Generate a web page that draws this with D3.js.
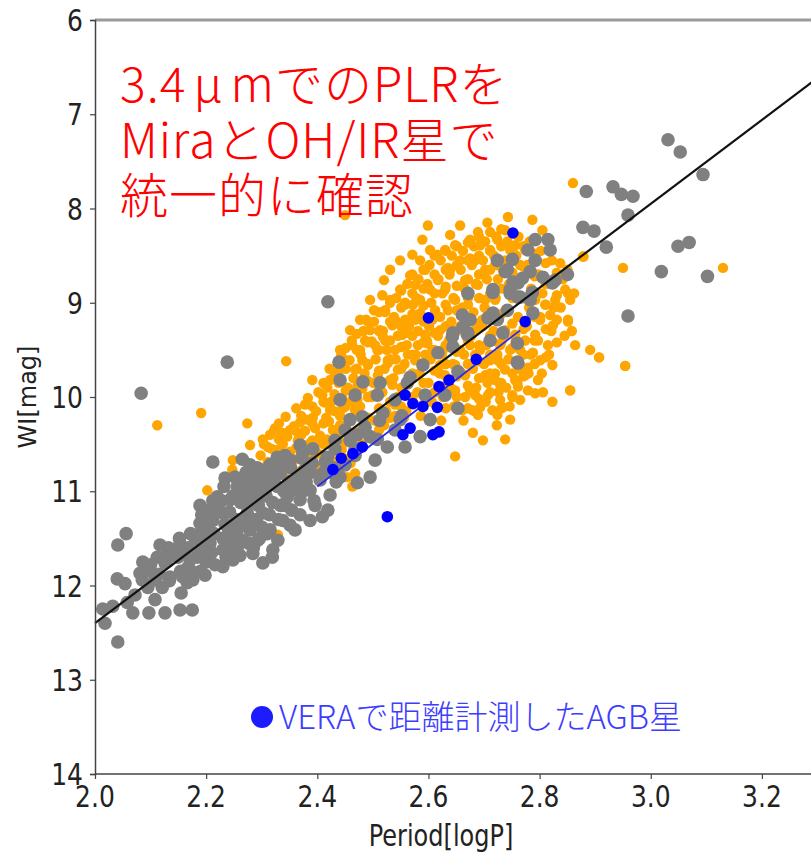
<!DOCTYPE html>
<html>
<head>
<meta charset="utf-8">
<script src="https://cdn.jsdelivr.net/npm/d3@7/dist/d3.min.js"></script>
<style>
  html, body { margin: 0; padding: 0; background: #fff; }
  svg { display: block; }
</style>
</head>
<body>
<svg id="chart" width="811" height="853"></svg>
<script>
// Axis ticks
const xTicks = [2.0, 2.2, 2.4, 2.6, 2.8, 3.0, 3.2];
const yTicks = [6, 7, 8, 9, 10, 11, 12, 13, 14];

// Mira variables, logP and WI magnitude (orange)
const miraLogP = [2.248,2.247,2.274,2.279,2.304,2.315,2.324,2.337,2.346,2.344,2.337,2.329,2.329,2.369,2.382,2.392,2.365,2.387,2.396,2.391,2.362,2.401,2.378,2.414,2.416,2.428,2.441,2.455,2.446,2.450,2.432,2.423,2.437,2.450,2.409,2.454,2.463,2.468,2.434,2.419,2.472,2.477,2.486,2.495,2.468,2.481,2.504,2.491,2.499,2.473,2.509,2.463,2.488,2.513,2.502,2.468,2.522,2.531,2.540,2.549,2.558,2.522,2.540,2.553,2.527,2.545,2.563,2.535,2.520,2.567,2.549,2.531,2.558,2.540,2.556,2.535,2.576,2.585,2.594,2.603,2.612,2.576,2.594,2.607,2.581,2.621,2.585,2.603,2.571,2.617,2.594,2.576,2.621,2.607,2.589,2.599,2.616,2.572,2.630,2.639,2.648,2.657,2.666,2.630,2.648,2.635,2.671,2.639,2.657,2.626,2.657,2.675,2.648,2.630,2.666,2.675,2.648,2.661,2.635,2.675,2.675,2.684,2.693,2.702,2.711,2.720,2.689,2.702,2.720,2.693,2.711,2.702,2.720,2.684,2.707,2.725,2.684,2.689,2.706,2.724,2.697,2.729,2.715,2.689,2.680,2.698,2.738,2.743,2.756,2.765,2.774,2.747,2.738,2.756,2.747,2.765,2.774,2.738,2.756,2.774,2.729,2.751,2.765,2.729,2.779,2.787,2.734,2.747,2.792,2.805,2.801,2.810,2.819,2.792,2.815,2.828,2.801,2.837,2.824,2.823,2.797,2.860,2.878,2.850,2.855,2.846,2.851,2.864,2.891,2.907,2.855,2.950,3.130,2.954,2.191,2.112,2.823,2.738,2.648,2.724,2.734,2.792,2.806,2.788,2.779,2.679,2.693,2.761,2.518,2.562,2.508,2.527,2.598,2.616,2.202,2.423,2.459,2.441,2.477,2.495,2.517,2.879,2.907,2.954,2.855,
  2.302,2.298,2.305,2.322,2.318,2.325,2.321,2.343,2.338,2.345,2.341,2.362,2.358,2.365,2.361,2.357,2.383,2.378,2.385,2.381,2.377,2.402,2.398,2.405,2.401,2.397,2.422,2.418,2.425,2.421,2.417,2.424,2.420,2.443,2.438,2.445,2.441,2.437,2.444,2.440,2.462,2.458,2.465,2.461,2.457,2.464,2.460,2.483,2.478,2.485,2.481,2.477,2.484,2.480,2.502,2.498,2.505,2.501,2.497,2.504,2.500,2.522,2.518,2.525,2.521,2.517,2.524,2.520,2.542,2.538,2.545,2.541,2.537,2.544,2.540,2.562,2.558,2.565,2.561,2.557,2.564,2.560,2.582,2.578,2.585,2.581,2.577,2.584,2.580,2.586,2.602,2.598,2.605,2.601,2.597,2.604,2.600,2.606,2.622,2.618,2.625,2.621,2.617,2.624,2.620,2.626,2.623,2.642,2.638,2.645,2.641,2.637,2.644,2.640,2.646,2.662,2.658,2.665,2.661,2.657,2.664,2.660,2.666,2.663,2.682,2.678,2.685,2.681,2.677,2.684,2.680,2.686,2.683,2.702,2.698,2.705,2.701,2.697,2.704,2.700,2.706,2.703,2.722,2.718,2.725,2.721,2.717,2.724,2.720,2.726,2.723,2.742,2.738,2.745,2.741,2.737,2.744,2.740,2.746,2.762,2.758,2.765,2.761,2.757,2.764,2.760,2.782,2.778,2.785,2.781,2.777,2.784,2.780,2.802,2.798,2.805,2.801,2.797,2.804,2.822,2.818,2.825,2.821,2.817,2.842,2.838,2.845,2.862,2.858];
const miraMag = [10.67,10.77,10.28,10.51,10.50,10.40,10.33,10.38,10.42,9.62,10.70,11.46,10.56,10.27,10.24,10.22,10.38,10.49,10.33,9.82,10.54,10.46,10.08,10.06,10.22,10.35,10.30,9.90,10.12,8.07,9.98,10.14,9.73,9.61,9.98,10.85,10.95,10.81,10.56,10.46,10.03,9.50,9.40,9.29,9.71,9.61,9.45,9.66,9.98,9.87,9.77,9.45,9.18,9.29,9.08,10.14,9.08,8.97,9.18,8.86,9.02,9.40,9.50,9.34,9.61,9.71,9.55,9.24,8.76,8.71,8.55,8.65,9.18,10.08,10.22,9.87,8.81,8.97,8.65,8.86,9.08,9.18,9.34,9.50,9.45,9.29,8.55,8.44,8.49,8.76,9.55,9.61,9.66,9.18,8.33,8.18,8.49,9.02,8.44,8.65,8.39,8.55,8.76,8.86,8.97,9.08,9.02,8.28,8.18,9.50,9.50,9.45,9.66,9.77,9.77,9.93,9.93,10.14,8.63,8.53,8.33,8.55,8.39,8.65,8.44,8.60,8.81,8.97,8.97,9.50,9.61,9.77,9.82,9.98,9.98,9.61,9.29,8.25,8.15,8.33,9.18,9.45,10.14,10.19,10.38,10.46,8.23,8.09,8.39,8.60,8.44,8.44,9.29,9.34,9.50,9.50,9.40,9.71,9.82,9.77,9.87,9.98,10.03,10.03,9.93,8.12,8.65,10.24,8.97,8.23,9.18,9.02,9.13,9.34,9.45,8.97,9.61,8.58,9.24,9.66,9.82,7.73,8.51,8.65,8.97,8.86,9.18,9.45,9.50,9.58,9.93,8.63,8.63,9.67,10.17,10.30,10.05,10.45,10.63,10.19,10.11,9.96,9.95,9.53,9.69,10.14,10.11,9.89,9.36,9.32,9.50,9.64,9.43,9.53,10.99,9.82,9.29,9.50,9.18,8.97,8.92,8.51,9.58,9.67,9.93,
  10.45,10.62,10.76,10.36,10.55,10.70,10.86,10.21,10.50,10.66,10.80,10.12,10.31,10.46,10.66,10.90,10.01,10.36,10.56,10.71,10.86,9.95,10.15,10.41,10.60,10.76,9.70,9.90,10.05,10.26,10.45,10.64,10.80,9.56,9.85,10.01,10.20,10.40,10.56,10.80,9.40,9.61,9.80,10.05,10.25,10.46,10.70,9.30,9.55,9.75,9.91,10.10,10.35,10.50,9.20,9.41,9.60,9.85,10.00,10.25,10.45,9.10,9.30,9.50,9.70,9.95,10.15,10.30,8.95,9.15,9.35,9.60,9.80,10.00,10.20,8.80,9.00,9.25,9.45,9.65,9.85,10.15,8.75,8.95,9.11,9.30,9.55,9.75,9.95,10.20,8.60,8.80,9.00,9.25,9.40,9.60,9.85,10.05,8.55,8.75,8.90,9.15,9.35,9.55,9.75,10.00,10.25,8.50,8.70,8.95,9.20,9.40,9.65,9.90,10.10,8.45,8.65,8.85,9.05,9.25,9.55,9.75,10.00,10.25,8.40,8.60,8.80,9.10,9.35,9.55,9.70,9.90,10.15,8.35,8.55,8.75,9.05,9.25,9.45,9.65,9.85,10.05,8.30,8.50,8.75,8.95,9.30,9.55,9.75,9.95,10.30,8.35,8.55,8.80,9.10,9.35,9.60,9.90,10.10,8.30,8.50,8.75,9.15,9.40,9.70,9.85,8.35,8.60,8.85,9.05,9.25,9.55,9.75,8.45,8.70,8.90,9.15,9.40,9.75,8.55,8.80,9.05,9.30,9.55,8.75,9.05,9.35,8.90,9.30];

// Densest part of the Mira sequence: [logP, [WI magnitudes...]]
const miraCoreRows = [
  [2.311, [10.53, 10.69]],
  [2.331, [10.28, 10.45, 10.62, 10.78]],
  [2.351, [10.35, 10.58, 10.73]],
  [2.371, [10.20, 10.40, 10.56, 10.78]],
  [2.391, [10.10, 10.28, 10.46, 10.63]],
  [2.411, [9.85, 10.05, 10.28, 10.50]],
  [2.431, [9.78, 9.97, 10.15, 10.35, 10.55, 10.72]],
  [2.451, [9.48, 9.70, 9.93, 10.10, 10.30, 10.48, 10.66]],
  [2.471, [9.33, 9.50, 9.70, 9.92, 10.15, 10.36, 10.58]],
  [2.491, [9.20, 9.42, 9.65, 9.83, 10.00, 10.22, 10.42]],
  [2.511, [9.10, 9.30, 9.50, 9.72, 9.92, 10.12, 10.35]],
  [2.531, [9.00, 9.20, 9.40, 9.60, 9.82, 10.05, 10.22]],
  [2.551, [8.87, 9.05, 9.25, 9.47, 9.70, 9.90, 10.10]],
  [2.571, [8.70, 8.90, 9.12, 9.35, 9.55, 9.75, 10.00]],
  [2.591, [8.65, 8.85, 9.03, 9.20, 9.42, 9.65, 9.85, 10.08]],
  [2.611, [8.50, 8.70, 8.90, 9.12, 9.32, 9.50, 9.72, 9.95]],
  [2.631, [8.45, 8.65, 8.83, 9.02, 9.25, 9.45, 9.65, 9.88, 10.12]],
  [2.651, [8.40, 8.60, 8.82, 9.08, 9.30, 9.52, 9.78, 10.00]],
  [2.671, [8.36, 8.55, 8.75, 8.95, 9.15, 9.40, 9.65, 9.88, 10.12]],
  [2.691, [8.30, 8.50, 8.70, 8.95, 9.22, 9.45, 9.62, 9.80, 10.02]],
  [2.711, [8.25, 8.45, 8.65, 8.90, 9.15, 9.35, 9.55, 9.75, 9.95]],
  [2.731, [8.22, 8.40, 8.62, 8.85, 9.12, 9.42, 9.65, 9.85, 10.12]],
  [2.751, [8.45, 8.68, 8.95, 9.22, 9.48, 9.75, 10.00]],
  [2.771, [8.40, 8.62, 8.95, 9.28, 9.55, 9.78]],
  [2.791, [8.48, 8.72, 8.95, 9.15, 9.40, 9.65]],
  [2.811, [8.58, 8.80, 9.02, 9.28, 9.58]],
  [2.831, [8.68, 8.92, 9.18, 9.42]],
  [2.851, [8.90, 9.20]]
];

// OH/IR and other AGB stars (grey)
const ohirLogP = [2.083,2.238,2.419,2.056,2.041,2.040,2.054,2.014,2.032,2.058,2.018,2.068,2.097,2.126,2.153,2.175,2.155,2.041,2.212,2.265,2.086,2.081,2.099,2.112,2.130,2.140,2.095,2.121,2.135,2.153,2.126,2.085,2.108,2.158,2.166,2.176,2.171,2.167,2.189,2.194,2.207,2.184,2.230,2.230,2.256,2.274,2.266,2.230,2.220,2.256,2.274,2.292,2.302,2.315,2.320,2.302,2.284,2.248,2.202,2.212,2.315,2.333,2.346,2.338,2.329,2.319,2.351,2.328,2.243,2.207,2.189,2.149,2.117,2.072,2.108,2.243,2.279,2.297,2.306,2.360,2.369,2.378,2.387,2.396,2.405,2.414,2.423,2.432,2.409,2.369,2.351,2.279,2.374,2.391,2.418,2.410,2.441,2.472,2.495,2.268,2.297,2.439,2.441,2.482,2.513,2.441,2.508,2.486,2.526,2.558,2.585,2.590,2.562,2.481,2.518,2.567,2.617,2.643,2.662,2.671,2.653,2.644,2.711,2.724,2.747,2.761,2.760,2.760,2.788,2.653,2.495,2.716,2.742,2.769,2.787,2.734,2.716,2.792,2.815,2.779,2.819,2.792,2.724,2.751,2.738,2.783,2.806,2.850,2.761,2.823,2.747,2.765,2.671,2.716,2.742,2.707,2.661,2.675,2.644,2.670,2.761,2.878,2.898,2.884,2.932,2.947,2.968,2.959,2.920,3.049,3.069,3.019,3.102,2.959,3.031,3.053,3.094,2.828,2.752,2.783,2.540,2.459,2.468,2.450,2.504,2.549,2.603,2.630,2.594,2.540,2.468,2.459,2.432,2.369,2.342,2.315,2.288,2.450,2.419,2.387,2.360,2.342,2.293,2.261,2.216,2.198,2.234,2.189,
  2.100,2.115,2.132,2.128,2.134,2.152,2.148,2.154,2.172,2.168,2.174,2.192,2.188,2.194,2.190,2.212,2.208,2.214,2.210,2.232,2.228,2.234,2.230,2.236,2.252,2.248,2.254,2.250,2.256,2.272,2.268,2.274,2.270,2.276,2.292,2.288,2.294,2.290,2.296,2.312,2.308,2.314,2.310,2.332,2.328,2.334,2.330,2.352,2.348,2.354,2.372,2.368,2.374,2.392,2.388,2.394,2.432,2.428,2.434,2.472,2.468,2.512,2.508,2.552,
  2.222,2.242,2.262,2.282,2.262,2.284,2.302,2.322,2.320,2.300,2.240,2.200,2.180,2.160,2.200,2.245,2.285,2.340,2.360,2.380];
const ohirMag = [9.96,9.63,8.99,11.45,11.57,11.93,11.98,12.25,12.22,12.18,12.40,12.29,12.29,12.29,12.26,12.26,12.08,12.60,10.69,10.66,11.75,11.87,11.84,11.70,11.66,11.62,12.02,12.02,11.91,11.55,11.76,11.94,11.94,11.91,11.97,11.94,11.73,11.81,11.34,11.49,11.55,11.70,11.80,11.62,11.41,11.23,11.52,11.23,11.06,10.95,10.91,11.06,11.23,11.41,11.62,11.76,11.66,11.73,11.41,11.31,10.88,10.81,11.06,11.31,11.52,11.70,10.67,10.64,11.09,11.20,11.62,11.70,11.57,12.10,12.15,11.52,11.41,10.77,10.99,10.88,11.09,10.77,10.99,11.15,10.88,10.69,11.04,10.83,11.27,11.25,11.36,10.72,10.59,10.70,10.64,10.81,10.85,10.91,10.85,10.88,10.93,9.63,9.82,9.84,9.85,10.03,9.98,10.32,10.53,10.53,10.42,9.66,9.85,10.21,10.17,9.79,9.53,9.36,9.26,9.32,9.73,9.47,9.40,9.18,8.86,8.94,9.63,9.43,9.11,10.12,10.42,8.86,8.65,8.74,8.89,9.32,9.11,8.33,8.33,8.44,8.44,8.55,8.55,8.54,8.67,8.67,8.73,8.70,8.79,8.79,8.90,8.94,8.90,8.89,9.08,9.16,9.13,9.18,9.32,9.34,9.64,8.20,8.24,7.82,7.77,7.85,7.87,8.07,8.41,8.40,8.36,8.67,8.72,9.14,7.27,7.40,7.64,8.76,8.78,8.97,10.35,10.46,10.62,10.72,10.67,10.24,10.24,9.98,9.98,10.03,9.98,10.24,10.46,10.51,10.62,10.72,10.77,10.35,11.20,11.31,11.41,11.15,11.52,11.68,11.78,11.89,10.86,11.15,
  11.78,11.88,11.60,11.75,11.95,11.50,11.65,11.85,11.45,11.60,11.85,11.25,11.45,11.65,11.85,11.10,11.30,11.45,11.65,10.95,11.10,11.35,11.50,11.70,10.85,11.05,11.30,11.45,11.60,10.80,11.00,11.15,11.35,11.55,10.75,10.95,11.15,11.30,11.50,10.80,11.05,11.25,11.45,10.70,10.95,11.15,11.30,10.75,10.90,11.20,10.65,10.85,11.00,10.55,10.80,11.10,10.55,10.75,10.90,10.40,10.55,10.25,10.45,10.20,
  11.20,11.22,11.12,11.05,10.95,10.86,10.90,10.88,11.12,11.38,11.40,11.40,11.50,11.62,11.75,11.62,11.60,11.00,10.98,10.90];

// AGB stars with VERA parallax distances (blue)
const veraLogP = [2.752,2.600,2.774,2.686,2.637,2.619,2.558,2.572,2.590,2.616,2.567,2.554,2.608,2.619,2.481,2.464,2.443,2.428,2.526];
const veraMag = [8.26,9.16,9.20,9.60,9.82,9.89,9.98,10.07,10.10,10.11,10.33,10.40,10.40,10.37,10.53,10.60,10.65,10.77,11.27];

// Period-luminosity relations: logP span, magnitude at logP0, slope
const plrAll = { range: [2.0, 3.3], logP0: 2.0, mag0: 12.40, slope: -4.45 };
const plrVera = { range: [2.40, 2.765], logP0: 2.40, mag0: 10.95, slope: -4.54 };

// Texts; the μ sits in a wide cell like the rest of the Japanese line
const titleParts = [
  [["3.4", 0], ["μ", 7], ["m", 7], ["でのPLRを", 0]],
  [["MiraとOH/IR星で", 0]],
  [["統一的に確認", 0]]
];
const legendText = "VERAで距離計測したAGB星";
const xTitle = "Period[logP]";
const yTitle = "WI[mag]";

const svg = d3.select("#chart");
const x = d3.scaleLinear().domain([2.0, 3.3]).range([95, 817.5]);
const y = d3.scaleLinear().domain([6, 14]).range([20, 774]);

const miraPts = d3.zip(miraLogP, miraMag)
  .concat(miraCoreRows.flatMap(([p, mags]) => mags.map(m => [p, m])));

const plot = svg.append("g");

// scatter layers
plot.append("g").selectAll("circle")
  .data(miraPts).join("circle")
  .attr("cx", d => x(d[0])).attr("cy", d => y(d[1]))
  .attr("r", 5.2).attr("fill", "#ffa500");

plot.append("g").selectAll("circle")
  .data(d3.zip(ohirLogP, ohirMag)).join("circle")
  .attr("cx", d => x(d[0])).attr("cy", d => y(d[1]))
  .attr("r", 6.8).attr("fill", "#808080");

// fitted relations
const line = d3.line().x(d => x(d[0])).y(d => y(d[1]));
function fitPts(f) {
  return f.range.map(p => [p, f.mag0 + f.slope * (p - f.logP0)]);
}
plot.append("path").attr("d", line(fitPts(plrAll)))
  .attr("stroke", "#111").attr("stroke-width", 2.2).attr("fill", "none");
plot.append("path").attr("d", line(fitPts(plrVera)))
  .attr("stroke", "#2a2aee").attr("stroke-width", 1.8).attr("fill", "none");

plot.append("g").selectAll("circle")
  .data(d3.zip(veraLogP, veraMag)).join("circle")
  .attr("cx", d => x(d[0])).attr("cy", d => y(d[1]))
  .attr("r", 5.8).attr("fill", "#0000ff");

// frame
svg.append("line").attr("x1", 95).attr("x2", 811).attr("y1", 20).attr("y2", 20)
  .attr("stroke", "#9a9a9a").attr("stroke-width", 3);

const axisFont = "'DejaVu Sans', sans-serif";
const stretch = 1.22;

const yAxis = svg.append("g").attr("transform", "translate(95,0)")
  .call(d3.axisLeft(y).tickValues(yTicks).tickFormat(() => "").tickSize(5));
const xAxis = svg.append("g").attr("transform", "translate(0,774)")
  .call(d3.axisBottom(x).tickValues(xTicks).tickFormat(() => "").tickSize(5));

[yAxis, xAxis].forEach(a => {
  a.select(".domain").attr("stroke", "#444").attr("stroke-width", 1.5);
  a.selectAll(".tick line").attr("stroke", "#444").attr("stroke-width", 1.2);
});
xAxis.select(".domain").attr("d", "M95,0H811");

// tick labels
svg.append("g").selectAll("text").data(yTicks).join("text")
  .attr("transform", d => `translate(83,${y(d) + 11}) scale(1,${stretch})`)
  .attr("text-anchor", "end").attr("font-family", axisFont).attr("font-size", 25)
  .attr("fill", "#222").text(d3.format("d"));
svg.append("g").selectAll("text").data(xTicks).join("text")
  .attr("transform", d => `translate(${x(d)},807) scale(1,${stretch})`)
  .attr("text-anchor", "middle").attr("font-family", axisFont).attr("font-size", 25)
  .attr("fill", "#222").text(d3.format(".1f"));

svg.append("text").attr("transform", `translate(441,846) scale(1,${stretch})`)
  .attr("text-anchor", "middle").attr("font-family", axisFont).attr("font-size", 24)
  .attr("fill", "#222").text(xTitle);
svg.append("text").attr("transform", "translate(36,397) rotate(-90)")
  .attr("text-anchor", "middle").attr("font-family", axisFont).attr("font-size", 24)
  .attr("fill", "#222").text(yTitle);

// annotation: one text block, one line per tspan group
const jp = "'Noto Sans CJK JP Light', 'Noto Sans CJK JP', sans-serif";
const title = svg.append("text").attr("x", 120).attr("y", 102)
  .attr("font-family", jp).attr("font-weight", 300).attr("font-size", 48)
  .attr("letter-spacing", 1).attr("fill", "#ff0000");
titleParts.forEach((parts, i) => {
  parts.forEach(([s, dx], j) => {
    const ts = title.append("tspan").text(s);
    if (j === 0) ts.attr("x", 120).attr("dy", i === 0 ? 0 : 55.5);
    else ts.attr("dx", dx);
  });
});

svg.append("circle").attr("cx", 262).attr("cy", 717).attr("r", 11).attr("fill", "#1c1cff");
svg.append("text").attr("x", 279).attr("y", 729)
  .attr("font-family", jp).attr("font-size", 33).attr("fill", "#3d3dff").text(legendText);
</script>
</body>
</html>
